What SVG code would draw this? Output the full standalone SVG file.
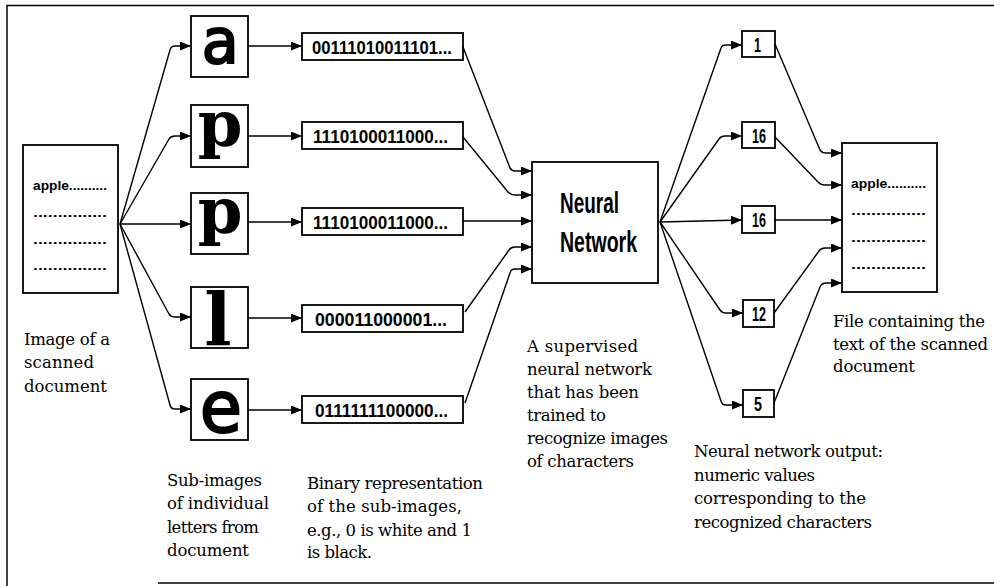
<svg xmlns="http://www.w3.org/2000/svg" width="994" height="586" viewBox="0 0 994 586">
<defs>
<marker id="ah" markerUnits="userSpaceOnUse" markerWidth="11" markerHeight="9" refX="11" refY="4.5" orient="auto">
<path d="M0,0 L11,4.5 L0,9 z" fill="#000"/>
</marker>
<style>
.box{fill:#fff;stroke:#000;stroke-width:1.8}
.c{fill:none;stroke:#000;stroke-width:1.4;marker-end:url(#ah)}
.bin{font-family:"Liberation Sans",Arial,sans-serif;font-weight:bold;font-size:18px}
.num{font-family:"Liberation Sans",Arial,sans-serif;font-weight:bold;font-size:21px}
.doc{font-family:"Liberation Sans",Arial,sans-serif;font-weight:bold;font-size:13px}
.lbl{font-family:"DejaVu Serif","Liberation Serif",serif;font-size:16.5px}
.nn{font-family:"Liberation Sans",Arial,sans-serif;font-weight:bold;font-size:29px}
.gm{font-family:"DejaVu Sans Mono",monospace;stroke:#000;stroke-width:2;text-anchor:middle}
.gs{font-family:"DejaVu Serif",serif;font-weight:bold;text-anchor:middle}
.frame{fill:none;stroke:#000;stroke-width:1.5}
</style>
</defs>
<rect width="994" height="586" fill="#fff"/>
<g id="frame">
<path class="frame" d="M7,586 L7,5.5 L994,5.5"/>
<path class="frame" d="M158,583 L994,583"/>
</g>

<g id="scanned-doc">
<rect class="box" x="23" y="145" width="95" height="148"/>
<text class="doc" x="33" y="190" textLength="74" lengthAdjust="spacingAndGlyphs">apple..........</text>
<text class="doc" x="33" y="217" textLength="74" lengthAdjust="spacingAndGlyphs">...............</text>
<text class="doc" x="33" y="244" textLength="74" lengthAdjust="spacingAndGlyphs">...............</text>
<text class="doc" x="33" y="270" textLength="74" lengthAdjust="spacingAndGlyphs">...............</text>
</g>

<g id="sub-a">
<rect class="box" x="191" y="16" width="57" height="61"/>
<text class="gm" x="220" y="63" font-size="62">a</text>
</g>
<g id="sub-p1">
<rect class="box" x="191" y="105" width="57" height="62"/>
<text class="gs" x="220" y="146" font-size="64">p</text>
</g>
<g id="sub-p2">
<rect class="box" x="191" y="193" width="57" height="61"/>
<text class="gs" x="220" y="233" font-size="64">p</text>
</g>
<g id="sub-l">
<rect class="box" x="191" y="287" width="57" height="61"/>
<text class="gs" x="218" y="346" font-size="72">l</text>
</g>
<g id="sub-e">
<rect class="box" x="191" y="379" width="57" height="61"/>
<text class="gm" x="221" y="432" font-size="72">e</text>
</g>

<g id="bin-1">
<rect class="box" x="302" y="33" width="161" height="27"/>
<text class="bin" x="312" y="53.5" textLength="140" lengthAdjust="spacingAndGlyphs">00111010011101...</text>
</g>
<g id="bin-2">
<rect class="box" x="302" y="122" width="161" height="27"/>
<text class="bin" x="313" y="142.5" textLength="135" lengthAdjust="spacingAndGlyphs">1110100011000...</text>
</g>
<g id="bin-3">
<rect class="box" x="302" y="208" width="161" height="27"/>
<text class="bin" x="313" y="228.5" textLength="135" lengthAdjust="spacingAndGlyphs">1110100011000...</text>
</g>
<g id="bin-4">
<rect class="box" x="302" y="305" width="161" height="27"/>
<text class="bin" x="315" y="325.5" textLength="132" lengthAdjust="spacingAndGlyphs">000011000001...</text>
</g>
<g id="bin-5">
<rect class="box" x="302" y="396" width="161" height="27"/>
<text class="bin" x="315" y="416.5" textLength="133" lengthAdjust="spacingAndGlyphs">0111111100000...</text>
</g>

<g id="neural-network">
<rect class="box" x="532" y="162" width="126" height="121"/>
<text class="nn" x="560" y="213" textLength="59" lengthAdjust="spacingAndGlyphs">Neural</text>
<text class="nn" x="560" y="252" textLength="77" lengthAdjust="spacingAndGlyphs">Network</text>
</g>

<g id="out-1">
<rect class="box" x="742" y="31" width="33" height="26"/>
<text class="num" x="754" y="51.5" textLength="7" lengthAdjust="spacingAndGlyphs">1</text>
</g>
<g id="out-16a">
<rect class="box" x="742" y="122" width="33" height="26"/>
<text class="num" x="752" y="142.5" textLength="14" lengthAdjust="spacingAndGlyphs">16</text>
</g>
<g id="out-16b">
<rect class="box" x="742" y="206" width="33" height="27"/>
<text class="num" x="752" y="227" textLength="14" lengthAdjust="spacingAndGlyphs">16</text>
</g>
<g id="out-12">
<rect class="box" x="743" y="300" width="31" height="27"/>
<text class="num" x="752" y="321" textLength="14" lengthAdjust="spacingAndGlyphs">12</text>
</g>
<g id="out-5">
<rect class="box" x="743" y="390" width="31" height="27"/>
<text class="num" x="754" y="411" textLength="8" lengthAdjust="spacingAndGlyphs">5</text>
</g>

<g id="text-file">
<rect class="box" x="842" y="143" width="95" height="149"/>
<text class="doc" x="851" y="188" textLength="75" lengthAdjust="spacingAndGlyphs">apple..........</text>
<text class="doc" x="851" y="215" textLength="75" lengthAdjust="spacingAndGlyphs">...............</text>
<text class="doc" x="851" y="242" textLength="75" lengthAdjust="spacingAndGlyphs">...............</text>
<text class="doc" x="851" y="269" textLength="75" lengthAdjust="spacingAndGlyphs">...............</text>
</g>

<g id="connectors">
<path class="c" d="M120,224 L170,50 Q171,46 175,46 L191,46"/>
<path class="c" d="M120,224 L169,139 Q171,136 175,136 L191,136"/>
<path class="c" d="M120,224 L191,224"/>
<path class="c" d="M120,224 L169,314 Q171,317 175,317 L191,317"/>
<path class="c" d="M120,224 L170,405 Q171,409 175,409 L191,409"/>

<path class="c" d="M248,46 L302,46"/>
<path class="c" d="M248,136 L302,136"/>
<path class="c" d="M248,222 L302,222"/>
<path class="c" d="M248,318 L302,318"/>
<path class="c" d="M248,410 L302,410"/>

<path class="c" d="M463,47 L510,168 Q512,171 515,171 L532,171"/>
<path class="c" d="M463,137 L508,192 Q511,195 515,195 L532,195"/>
<path class="c" d="M463,221 L532,221"/>
<path class="c" d="M465,312 L509,250 Q511,247 515,247 L532,247"/>
<path class="c" d="M465,403 L510,273 Q511,269 515,269 L532,269"/>

<path class="c" d="M660,222 L721,48 Q722,45 726,45 L742,45"/>
<path class="c" d="M660,222 L719,139 Q721,136 725,136 L742,136"/>
<path class="c" d="M660,222 L742,220"/>
<path class="c" d="M660,222 L720,310 Q722,313 726,313 L743,313"/>
<path class="c" d="M660,222 L721,401 Q722,405 726,405 L743,405"/>

<path class="c" d="M775,44 L820,150 Q822,153 826,153 L842,153"/>
<path class="c" d="M775,137 L818,182 Q821,185 825,185 L842,185"/>
<path class="c" d="M775,220 L842,220"/>
<path class="c" d="M774,313 L819,251 Q821,248 825,248 L842,248"/>
<path class="c" d="M774,403 L820,287 Q822,283 826,283 L842,283"/>
</g>

<g id="labels">
<text class="lbl" x="24" y="345" textLength="86">Image of a</text>
<text class="lbl" x="24" y="368" textLength="70">scanned</text>
<text class="lbl" x="24" y="392" textLength="83">document</text>

<text class="lbl" x="167" y="486" textLength="95">Sub-images</text>
<text class="lbl" x="167" y="509" textLength="102">of individual</text>
<text class="lbl" x="167" y="533" textLength="92">letters from</text>
<text class="lbl" x="167" y="556" textLength="82">document</text>

<text class="lbl" x="307" y="489" textLength="176">Binary representation</text>
<text class="lbl" x="307" y="512" textLength="155">of the sub-images,</text>
<text class="lbl" x="307" y="536" textLength="165">e.g., 0 is white and 1</text>
<text class="lbl" x="307" y="558" textLength="65">is black.</text>

<text class="lbl" x="527" y="352" textLength="111">A supervised</text>
<text class="lbl" x="527" y="375" textLength="125">neural network</text>
<text class="lbl" x="527" y="398" textLength="112">that has been</text>
<text class="lbl" x="527" y="421" textLength="79">trained to</text>
<text class="lbl" x="527" y="444" textLength="141">recognize images</text>
<text class="lbl" x="527" y="467" textLength="107">of characters</text>

<text class="lbl" x="694" y="457" textLength="189">Neural network output:</text>
<text class="lbl" x="694" y="481" textLength="121">numeric values</text>
<text class="lbl" x="694" y="504" textLength="172">corresponding to the</text>
<text class="lbl" x="694" y="528" textLength="178">recognized characters</text>

<text class="lbl" x="833" y="327" textLength="152">File containing the</text>
<text class="lbl" x="833" y="350" textLength="155">text of the scanned</text>
<text class="lbl" x="833" y="372" textLength="82">document</text>
</g>
</svg>
